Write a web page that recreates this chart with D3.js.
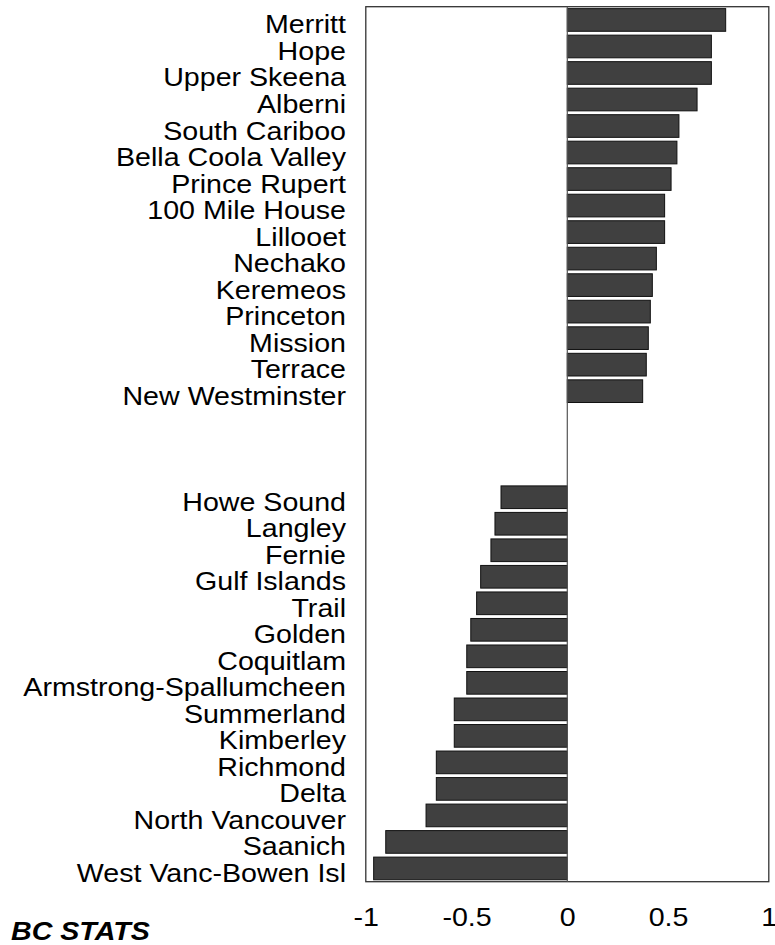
<!DOCTYPE html>
<html>
<head>
<meta charset="utf-8">
<script src="https://cdn.jsdelivr.net/npm/d3@7/dist/d3.min.js"></script>
<style>
  html, body { margin: 0; padding: 0; background: #fff; }
  svg { display: block; }
  text { font-family: "Liberation Sans", Arial, Helvetica, sans-serif; fill: #000; }
</style>
</head>
<body>
<svg id="chart" width="775" height="945"></svg>
<script>
// ---- data ----
const topNames = ["Merritt", "Hope", "Upper Skeena", "Alberni", "South Cariboo",
  "Bella Coola Valley", "Prince Rupert", "100 Mile House", "Lillooet", "Nechako",
  "Keremeos", "Princeton", "Mission", "Terrace", "New Westminster"];
const topValues = [0.786, 0.715, 0.715, 0.644, 0.554,
  0.544, 0.515, 0.483, 0.483, 0.442,
  0.422, 0.412, 0.402, 0.392, 0.374];
const bottomNames = ["Howe Sound", "Langley", "Fernie", "Gulf Islands", "Trail",
  "Golden", "Coquitlam", "Armstrong-Spallumcheen", "Summerland", "Kimberley",
  "Richmond", "Delta", "North Vancouver", "Saanich", "West Vanc-Bowen Isl"];
const bottomValues = [-0.329, -0.359, -0.379, -0.430, -0.450,
  -0.479, -0.499, -0.499, -0.561, -0.561,
  -0.650, -0.650, -0.701, -0.901, -0.961];
const gapSlots = ["__gap1", "__gap2", "__gap3"];
const xTicks = [-1, -0.5, 0, 0.5, 1];
const xTickLabels = ["-1", "-0.5", "0", "0.5", "1"];
const footer = "BC STATS";

// ---- layout ----
const plot = { left: 365.8, right: 768.8, top: 6.7, bottom: 881.7 };
const fontSize = 26, stretch = 1.1;

const svg = d3.select("#chart");

const rows = topNames.map((n, i) => ({ name: n, value: topValues[i] }))
  .concat(bottomNames.map((n, i) => ({ name: n, value: bottomValues[i] })));
const domain = topNames.concat(gapSlots, bottomNames);

const x = d3.scaleLinear().domain([-1, 1]).range([plot.left, plot.right]);
const y = d3.scaleBand().domain(domain).range([plot.top, plot.bottom])
  .paddingInner(0.145).paddingOuter(0.0725);

// frame
svg.append("rect")
  .attr("x", plot.left).attr("y", plot.top)
  .attr("width", plot.right - plot.left).attr("height", plot.bottom - plot.top)
  .attr("fill", "#fff").attr("stroke", "#333").attr("stroke-width", 1.3);

// bars
svg.append("g").selectAll("rect").data(rows).join("rect")
  .attr("x", d => Math.min(x(0), x(d.value)))
  .attr("y", d => y(d.name))
  .attr("width", d => Math.abs(x(d.value) - x(0)))
  .attr("height", y.bandwidth())
  .attr("fill", "#404040")
  .attr("stroke", "#111")
  .attr("stroke-width", 1);

// zero line
svg.append("line")
  .attr("x1", x(0)).attr("x2", x(0))
  .attr("y1", plot.top).attr("y2", plot.bottom)
  .attr("stroke", "#555").attr("stroke-width", 1.2);

// category labels
svg.append("g").selectAll("text").data(rows).join("text")
  .attr("transform", d => `translate(346,${y(d.name) + y.bandwidth() / 2 + 13.5}) scale(${stretch},1)`)
  .attr("text-anchor", "end")
  .attr("font-size", fontSize)
  .text(d => d.name);

// x axis tick labels (no tick marks)
const axis = d3.axisBottom(x).tickValues(xTicks)
  .tickFormat((d, i) => xTickLabels[i]).tickSize(0).tickPadding(0);
const gx = svg.append("g").call(axis);
gx.select(".domain").remove();
gx.selectAll(".tick text")
  .attr("y", 0).attr("dy", 0)
  .attr("transform", `translate(0,926) scale(${stretch},1)`)
  .attr("font-size", fontSize)
  .attr("fill", "#000")
  .attr("font-family", '"Liberation Sans", Arial, sans-serif');

// footer
svg.append("text")
  .attr("transform", `translate(11,940) scale(${stretch},1)`)
  .attr("font-size", fontSize)
  .attr("font-weight", "bold")
  .attr("font-style", "italic")
  .text(footer);
</script>
</body>
</html>
